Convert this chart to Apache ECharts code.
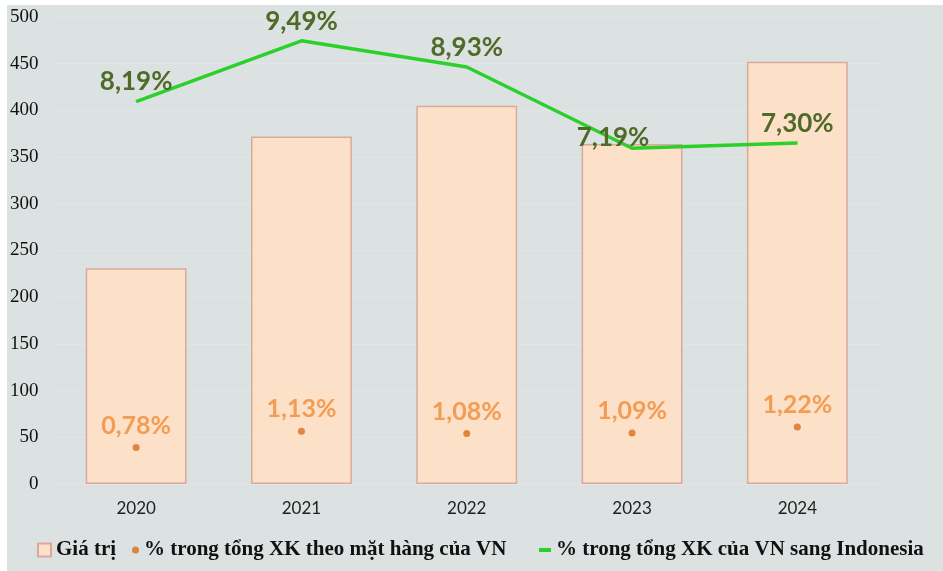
<!DOCTYPE html>
<html>
<head>
<meta charset="utf-8">
<script src="https://cdn.jsdelivr.net/npm/echarts@6/dist/echarts.min.js"></script>
<style>
    html, body { margin: 0; padding: 0; background: #ffffff; }
    #chart { position: absolute; left: 7px; top: 5px; width: 936px; height: 566px; background: #dce1e1; }
</style>
</head>
<body>
<div id="chart"></div>
<script>
// Data
const years = ['2020', '2021', '2022', '2023', '2024'];
const values = [231, 372, 405, 364, 452];               // Giá trị
const shareByItem = [0.78, 1.13, 1.08, 1.09, 1.22];     // % trong tổng XK theo mặt hàng của VN
const shareToIndonesia = [8.19, 9.49, 8.93, 7.19, 7.30]; // % trong tổng XK của VN sang Indonesia

const nameValue = 'Giá trị';
const nameItem = '% trong tổng XK theo mặt hàng của VN';
const nameIndo = '% trong tổng XK của VN sang Indonesia';

const pct = function (v) {
    return v.toFixed(2).replace('.', ',') + '%';
};

const chart = echarts.init(document.getElementById('chart'));

const legendText = {
    fontFamily: '"Liberation Serif", "Times New Roman", serif',
    fontWeight: 'bold',
    fontSize: 21,
    color: '#111',
    lineHeight: 22
};

chart.setOption({
    animation: false,
    grid: { left: 45, right: 63, top: 12, bottom: 87 },

    // three legends so each icon can get its own size
    legend: [
        {
            data: [{ name: nameValue, icon: 'rect' }],
            left: 25, top: 529, itemWidth: 13, itemHeight: 13,
            textStyle: legendText
        },
        {
            data: [{ name: nameItem, icon: 'circle' }],
            left: 120, top: 529, itemWidth: 7, itemHeight: 7,
            textStyle: legendText
        },
        {
            data: [{ name: nameIndo, icon: 'rect' }],
            left: 527, top: 529, itemWidth: 12, itemHeight: 4,
            textStyle: legendText
        }
    ],

    xAxis: {
        type: 'category',
        data: years,
        axisLine: { show: false },
        axisTick: { show: false },
        axisLabel: {
            margin: 16,
            fontFamily: 'Lato, sans-serif',
            fontSize: 17,
            color: '#222'
        }
    },

    yAxis: [
        {
            type: 'value',
            min: 0,
            max: 500,
            interval: 50,
            axisLine: { show: false },
            axisTick: { show: false },
            axisLabel: {
                margin: 15,
                fontFamily: '"Liberation Serif", "Times New Roman", serif',
                fontSize: 19,
                color: '#111'
            },
            splitLine: { lineStyle: { color: '#e2e6e6', width: 1 } }
        },
        {
            type: 'value',
            min: 0,
            max: 10,
            show: false,
            splitLine: { show: false }
        }
    ],

    series: [
        {
            name: nameValue,
            type: 'bar',
            data: values,
            barWidth: '61%',
            itemStyle: {
                color: '#fde0c8',
                borderColor: '#dba89e',
                borderWidth: 1.5
            },
            z: 1
        },
        {
            name: nameItem,
            type: 'scatter',
            yAxisIndex: 1,
            data: shareByItem,
            symbolSize: 7,
            itemStyle: { color: '#dc6e1c' },
            label: {
                show: true,
                position: 'top',
                distance: 6,
                formatter: p => pct(p.value),
                fontFamily: 'Lato, sans-serif',
                fontWeight: 'bold',
                fontSize: 25,
                color: '#ef8c36'
            },
            z: 3
        },
        {
            name: nameIndo,
            type: 'line',
            yAxisIndex: 1,
            data: shareToIndonesia,
            symbol: 'circle',
            symbolSize: 1,
            showSymbol: true,
            lineStyle: { color: '#2ad12a', width: 3.5 },
            itemStyle: { color: '#2ad12a' },
            label: {
                show: true,
                position: 'top',
                distance: 6,
                formatter: p => pct(p.value),
                fontFamily: 'Lato, sans-serif',
                fontWeight: 'bold',
                fontSize: 26,
                color: '#506a28'
            },
            // the 2023 label sits a bit left and low, over the line
            labelLayout: function (params) {
                if (params.dataIndex === 3) {
                    return { dx: -19, dy: 9, hideOverlap: false };
                }
                return { hideOverlap: false };
            },
            z: 4
        }
    ]
});
</script>
</body>
</html>
